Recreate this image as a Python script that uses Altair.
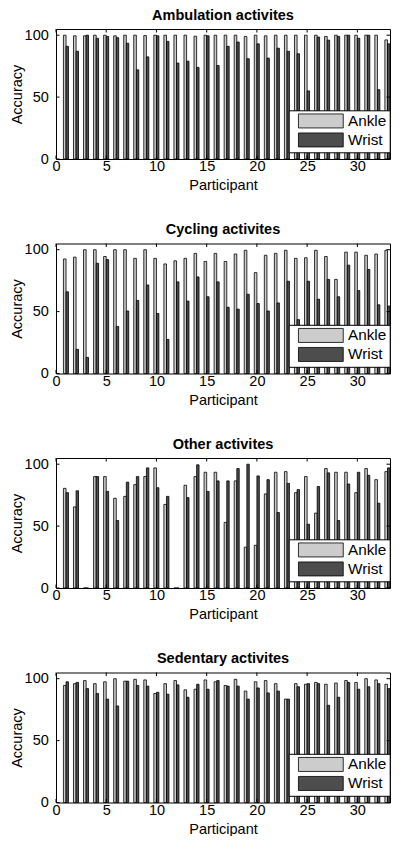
import altair as alt
import pandas as pd

participants = list(range(1, 34))
x_ticks = [0, 5, 10, 15, 20, 25, 30]
y_ticks = [0, 50, 100]
titles = ["Ambulation activites", "Cycling activites", "Other activites", "Sedentary activites"]
sensors = ["Ankle", "Wrist"]

amb_ankle = [100, 99.5, 99.5, 100, 100, 99.5, 100, 100, 99.7, 100, 100, 100, 100, 99.2, 100, 100,
             100, 100, 99, 100, 99.5, 100, 100, 100, 100, 100, 99, 100, 100, 100, 100, 100, 96.2]
amb_wrist = [91, 87, 100, 97.5, 99, 98, 93.5, 72, 82.5, 99.5, 95, 77.5, 79, 74, 99.5, 75.5,
             91, 94.5, 81, 93, 81.5, 89.5, 87, 85, 55, 98.5, 96, 99, 100, 97.5, 100, 56, 93]

cyc_ankle = [92.5, 94, 100, 100, 94.5, 100, 100, 93, 100, 93, 88.5, 91, 93, 97, 90.5, 97,
             90.5, 96.5, 99.5, 81.5, 95.5, 97, 99.5, 93, 93.5, 99.5, 94.5, 76, 98, 98, 95.5, 96.5, 99.5]
cyc_wrist = [66, 19.5, 13, 89, 92, 38, 50.5, 59, 71.5, 48.5, 27.5, 74, 58.5, 78, 62, 74,
             53.5, 52, 64, 56.5, 50.5, 57, 74.5, 43.5, 74.5, 60, 76, 62, 87.5, 67, 84, 55.5, 54.5]

oth_ankle = [80.5, 65.5, 0, 90, 90, 72.5, 74, 83.5, 90, 97, 67.5, 0, 83, 90, 93.5, 93.5,
             53, 86.5, 33, 34.5, 76, 93.5, 94, 77, 90, 60.5, 96.5, 93.5, 93.5, 77, 96.5, 87.5, 94]
oth_wrist = [77, 78.5, 0, 90, 78, 54.5, 85.5, 90, 97, 81, 74, 0, 73, 99.5, 78, 86.5,
             86.5, 96.5, 100, 90.5, 87.5, 61, 84.5, 79.5, 51.5, 82, 93, 54.5, 84, 93.5, 91, 68.5, 97]

sed_ankle = [94.5, 96, 98.5, 96, 97.5, 100, 98, 99.5, 99, 88, 96, 98.5, 91, 91.5, 99, 97.5,
             94.5, 99.5, 90, 97.5, 98.5, 96, 83.5, 96, 95.5, 97, 95.5, 96.5, 98.5, 97, 100, 99, 95.5]
sed_wrist = [97.5, 97, 92, 88, 83.5, 78, 98, 94.5, 94, 89, 87.5, 95, 85, 95.5, 91.5, 98.5,
             94, 94, 83.5, 92.5, 88.5, 90, 83.5, 93.5, 96, 96, 78.5, 85, 97, 91.5, 93.5, 96, 92]

series = [(amb_ankle, amb_wrist), (cyc_ankle, cyc_wrist), (oth_ankle, oth_wrist), (sed_ankle, sed_wrist)]

W, H = 334, 130
FONT = "Liberation Sans"
FS = 14.5
TL = 3.5

xs = alt.Scale(domain=[0, 33.25], nice=False, zero=False)
ys = alt.Scale(domain=[0, 105], nice=False)

x_axis = alt.Axis(values=x_ticks, title="Participant", grid=False, domain=False, ticks=False,
                  labelFlush=False, labelPadding=0.5, titlePadding=5.5, labelFontSize=FS,
                  titleFontSize=FS, labelFont=FONT, titleFont=FONT, titleFontWeight="normal",
                  labelColor="black", titleColor="black")
y_axis = alt.Axis(values=y_ticks, title="Accuracy", grid=False, domain=False, ticks=False,
                  labelPadding=7.7, titlePadding=0, labelFontSize=FS, titleFontSize=FS,
                  labelFont=FONT, titleFont=FONT, titleFontWeight="normal",
                  labelColor="black", titleColor="black")


def panel(title, ankle, wrist):
    df = pd.DataFrame({
        "Participant": participants * 2,
        "Accuracy": ankle + wrist,
        "Sensor": [sensors[0]] * len(participants) + [sensors[1]] * len(participants),
    })
    bars = alt.Chart(df).transform_calculate(
        x0="datum.Sensor == 'Ankle' ? datum.Participant - 0.26 : datum.Participant",
        x1="datum.Sensor == 'Ankle' ? datum.Participant : datum.Participant + 0.24",
    ).mark_bar(stroke="black", strokeWidth=0.8, opacity=1).encode(
        x=alt.X("x0:Q", scale=xs, axis=x_axis),
        x2="x1:Q",
        y=alt.Y("Accuracy:Q", scale=ys, axis=y_axis),
        y2=alt.datum(0),
        color=alt.Color("Sensor:N",
                        scale=alt.Scale(domain=sensors, range=["#cccccc", "#4d4d4d"]),
                        legend=alt.Legend(title=None, orient="none", legendX=232.7, legendY=81.3,
                                          direction="vertical", fillColor="white",
                                          strokeColor="black", padding=3, cornerRadius=0,
                                          symbolType="M-3.2,-1H3.2V1H-3.2Z", symbolSize=196,
                                          symbolStrokeColor="black", symbolStrokeWidth=0.8,
                                          symbolOpacity=1, symbolOffset=21.5, labelOffset=19.5,
                                          labelFontSize=15.3, labelFont=FONT, labelColor="black",
                                          rowPadding=1)),
    )
    xt = alt.Chart(pd.DataFrame({"t": x_ticks}))
    yt = alt.Chart(pd.DataFrame({"v": y_ticks}))
    top_t = xt.mark_rule(color="black", strokeWidth=1).encode(
        x=alt.X("t:Q", scale=xs, axis=x_axis), y=alt.value(0), y2=alt.value(TL))
    bot_t = xt.mark_rule(color="black", strokeWidth=1).encode(
        x=alt.X("t:Q", scale=xs, axis=x_axis), y=alt.value(H), y2=alt.value(H - TL))
    left_t = yt.mark_rule(color="black", strokeWidth=1).encode(
        y=alt.Y("v:Q", scale=ys, axis=y_axis), x=alt.value(0), x2=alt.value(TL))
    right_t = yt.mark_rule(color="black", strokeWidth=1).encode(
        y=alt.Y("v:Q", scale=ys, axis=y_axis), x=alt.value(W), x2=alt.value(W - TL))
    return alt.layer(bars, top_t, bot_t, left_t, right_t).properties(
        width=W, height=H,
        title=alt.TitleParams(title, font=FONT, fontSize=FS, fontWeight="bold", color="black",
                              anchor="middle", offset=4, frame="group"),
    )


charts = [panel(t, a, w) for t, (a, w) in zip(titles, series)]

chart = alt.vconcat(*charts, spacing=28.5).resolve_scale(color="independent").properties(
    padding={"left": 0, "top": -1, "right": 0, "bottom": 0},
    background="white",
).configure_view(stroke="black", strokeWidth=1)

chart.save("out.html", embed_options={"renderer": "svg", "actions": False})
